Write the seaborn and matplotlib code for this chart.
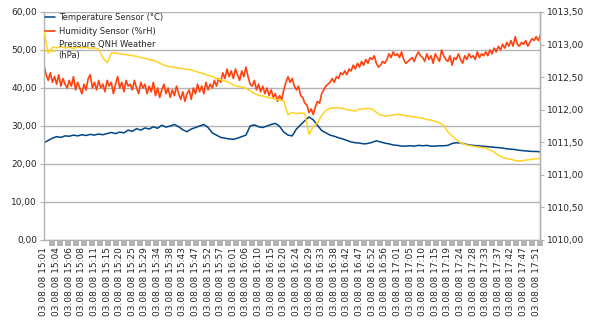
import numpy as np
import pandas as pd
import matplotlib
matplotlib.use("Agg")
import matplotlib.pyplot as plt
import seaborn as sns
from matplotlib.ticker import FuncFormatter, MultipleLocator

time_labels = [
    "03.08.08 15:01", "03.08.08 15:04", "03.08.08 15:06", "03.08.08 15:08",
    "03.08.08 15:11", "03.08.08 15:15", "03.08.08 15:20", "03.08.08 15:25",
    "03.08.08 15:29", "03.08.08 15:34", "03.08.08 15:38", "03.08.08 15:43",
    "03.08.08 15:47", "03.08.08 15:52", "03.08.08 15:57", "03.08.08 16:01",
    "03.08.08 16:06", "03.08.08 16:10", "03.08.08 16:15", "03.08.08 16:20",
    "03.08.08 16:24", "03.08.08 16:29", "03.08.08 16:33", "03.08.08 16:38",
    "03.08.08 16:42", "03.08.08 16:47", "03.08.08 16:52", "03.08.08 16:56",
    "03.08.08 17:01", "03.08.08 17:05", "03.08.08 17:10", "03.08.08 17:15",
    "03.08.08 17:19", "03.08.08 17:24", "03.08.08 17:28", "03.08.08 17:33",
    "03.08.08 17:37", "03.08.08 17:42", "03.08.08 17:47", "03.08.08 17:51",
]

series_names = ["Temperature Sensor (°C)", "Humidity Sensor (%rH)",
                "Pressure QNH Weather\n(hPa)"]

# samples between two consecutive time labels
temp_per_label = 3
hum_per_label = 6
pres_per_label = 3

temperature = [
    25.6, 26.2, 26.8, 27.2, 27.0, 27.4, 27.3, 27.6, 27.4, 27.7, 27.5, 27.8,
    27.6, 27.9, 27.7, 28.0, 28.3, 28.0, 28.4, 28.2, 28.9, 28.6, 29.3, 28.9,
    29.5, 29.2, 29.8, 29.4, 30.2, 29.7, 30.0, 30.4, 29.8, 29.0, 28.5, 29.2,
    29.6, 30.0, 30.4, 29.6, 28.2, 27.6, 27.0, 26.8, 26.6, 26.5, 26.8, 27.2,
    27.6, 30.0, 30.3, 29.8, 29.6, 30.0, 30.4, 30.7, 29.9, 28.4, 27.6, 27.4,
    29.2, 30.3, 31.4, 32.4, 31.6, 30.2, 28.8, 28.2, 27.6, 27.3, 26.9, 26.6,
    26.2, 25.8, 25.6, 25.5, 25.3, 25.4, 25.7, 26.1, 25.8, 25.5, 25.3, 25.0,
    24.9, 24.7, 24.7, 24.8, 24.7, 24.9, 24.8, 24.9, 24.7, 24.7, 24.8, 24.8,
    24.9, 25.4, 25.6, 25.5, 25.3, 25.0, 24.9, 24.8, 24.7, 24.6, 24.5, 24.4,
    24.3, 24.2, 24.0, 23.9, 23.8, 23.6, 23.5, 23.4, 23.3, 23.3, 23.2,
]

humidity = [
    46.0, 43.5, 42.0, 44.0, 41.5, 43.0,
    41.0, 43.5, 40.5, 42.5, 41.0, 40.0,
    42.0, 40.5, 43.0, 39.5, 41.5, 40.0,
    38.5, 41.0, 39.5, 42.5, 43.5, 40.0,
    41.5, 39.5, 42.0, 40.0, 41.0, 39.0,
    42.0, 40.5, 41.5, 38.5, 41.0, 43.0,
    40.0, 41.5, 39.0, 42.0, 40.5, 41.0,
    39.5, 42.0, 40.0, 38.5, 41.5, 40.0,
    41.0, 38.5, 40.5, 39.0, 41.5, 38.0,
    40.0, 37.5, 39.5, 41.0, 38.5, 40.0,
    37.5, 39.5, 38.0, 40.5, 38.5, 37.0,
    39.0, 36.5, 38.5, 39.5, 37.0, 40.0,
    38.5, 41.0, 39.0, 40.5, 38.5, 41.5,
    39.5, 41.0, 40.0, 42.0, 40.5, 42.5,
    41.5, 44.0, 42.5, 45.0, 43.0, 44.5,
    42.5, 45.0, 43.5, 42.0, 44.5, 43.0,
    45.5, 43.0, 41.0, 40.5, 42.0, 39.5,
    41.0, 39.0, 40.5, 38.5, 40.0, 38.0,
    39.5, 37.5, 38.5, 36.5, 38.0, 37.0,
    39.5, 41.5, 43.0, 41.5, 42.5, 40.5,
    39.5, 40.5, 38.0, 37.5, 36.0, 35.5,
    33.5, 34.5, 33.0, 35.0, 36.5, 36.0,
    38.5, 39.5, 40.5, 41.0, 41.5, 42.5,
    41.5, 43.0, 42.5, 44.0, 43.5, 44.5,
    43.5, 45.0, 44.5, 46.0, 45.0, 46.5,
    45.5, 47.0, 46.0, 47.5, 46.5, 48.0,
    47.5, 48.5, 46.5, 45.5, 46.0, 47.0,
    46.5, 47.5, 49.0, 48.0, 49.5, 48.5,
    49.0, 48.0, 49.5, 47.5, 46.5, 47.0,
    47.5, 48.0, 47.0, 48.5, 49.5, 48.5,
    48.0, 47.0, 49.0, 47.5, 48.5, 46.5,
    49.0, 48.0, 47.0, 50.0, 48.5, 47.5,
    47.0, 48.5, 46.0, 48.0, 47.5, 49.0,
    47.5, 46.5, 48.5, 47.5, 49.0, 48.0,
    48.5, 47.5, 49.5, 48.0, 49.0, 48.5,
    49.5, 48.5, 50.0, 49.0, 50.5, 49.5,
    51.0, 50.0, 51.5, 50.5, 52.0, 51.0,
    52.5, 51.0, 53.5, 51.5, 51.0, 52.0,
    51.5, 52.5, 51.0, 52.0, 53.0, 52.5,
    53.5, 52.5, 54.0,
]

pressure = [
    1013.20, 1012.87, 1012.96, 1012.95, 1012.97, 1012.95, 1012.96, 1012.94,
    1012.96, 1012.95, 1012.96, 1012.94, 1012.95, 1012.93, 1012.80, 1012.72,
    1012.87, 1012.87, 1012.86, 1012.85, 1012.84, 1012.83, 1012.82, 1012.80,
    1012.79, 1012.77, 1012.76, 1012.73, 1012.70, 1012.67, 1012.66, 1012.65,
    1012.64, 1012.63, 1012.62, 1012.61, 1012.59, 1012.57, 1012.55, 1012.53,
    1012.51, 1012.48, 1012.46, 1012.44, 1012.42, 1012.38, 1012.36, 1012.35,
    1012.33, 1012.29, 1012.25, 1012.22, 1012.21, 1012.19, 1012.18, 1012.16,
    1012.15, 1012.13, 1011.92, 1011.96, 1011.94, 1011.95, 1011.94, 1011.62,
    1011.74, 1011.80, 1011.91, 1011.99, 1012.02, 1012.03, 1012.03, 1012.02,
    1012.00, 1011.99, 1011.98, 1012.01, 1012.01, 1012.02, 1012.01, 1011.96,
    1011.92, 1011.90, 1011.91, 1011.92, 1011.93, 1011.92, 1011.91, 1011.90,
    1011.89, 1011.88, 1011.87, 1011.85, 1011.84, 1011.82, 1011.80, 1011.76,
    1011.66, 1011.60, 1011.54, 1011.49, 1011.47, 1011.45, 1011.44, 1011.43,
    1011.42, 1011.41, 1011.38, 1011.35, 1011.30, 1011.27, 1011.25, 1011.24,
    1011.22, 1011.21, 1011.22, 1011.23, 1011.24, 1011.25, 1011.25,
]

left_ticks = [0, 10, 20, 30, 40, 50, 60]
right_ticks = [1010.0, 1010.5, 1011.0, 1011.5, 1012.0, 1012.5, 1013.0, 1013.5]

colors = ["#004586", "#ff420e", "#ffd320"]
grid_gray = "#b3b3b3"

df_t = pd.DataFrame({"pos": np.arange(len(temperature)) / temp_per_label, "value": temperature})
df_h = pd.DataFrame({"pos": np.arange(len(humidity)) / hum_per_label, "value": humidity})
df_p = pd.DataFrame({"pos": np.arange(len(pressure)) / pres_per_label, "value": pressure})

sns.set_style("white")
plt.rcParams["font.family"] = ["DejaVu Sans"]

fig = plt.figure(figsize=(6.03, 3.27), dpi=100)
ax = fig.add_axes([44 / 603, 1 - 240 / 327, (540 - 44) / 603, (240 - 12) / 327])
ax2 = ax.twinx()

sns.lineplot(data=df_t, x="pos", y="value", ax=ax, color=colors[0], lw=1.1,
             label=series_names[0], legend=False)
sns.lineplot(data=df_h, x="pos", y="value", ax=ax, color=colors[1], lw=1.2,
             label=series_names[1], legend=False)
sns.lineplot(data=df_p, x="pos", y="value", ax=ax2, color=colors[2], lw=1.1,
             label=series_names[2], legend=False)

ax.set_xlim(0, 39.3)
ax.set_ylim(0, 60)
ax2.set_ylim(1010, 1013.5)
ax.set_yticks(left_ticks)
ax2.set_yticks(right_ticks)
fmt = FuncFormatter(lambda v, p: f"{v:.2f}".replace(".", ","))
ax.yaxis.set_major_formatter(fmt)
ax2.yaxis.set_major_formatter(fmt)

ax.set_xticks(range(len(time_labels)))
ax.set_xticklabels(time_labels, rotation=90, fontsize=6.5)
ax.xaxis.set_minor_locator(MultipleLocator(0.6333))
ax.tick_params(axis="x", which="major", length=0, pad=5)
ax.tick_params(axis="x", which="minor", length=4.0, width=4.2, color=grid_gray,
               direction="out", bottom=True)
ax.tick_params(axis="y", which="major", length=3, width=0.8, color=grid_gray,
               labelsize=6.5, pad=2, left=True)
ax2.tick_params(axis="y", which="major", length=3, width=0.8, color=grid_gray,
                labelsize=6.5, pad=2, right=True)

ax.set_xlabel("")
ax.set_ylabel("")
ax2.set_ylabel("")

ax.yaxis.grid(True, color=grid_gray, lw=1)
ax.xaxis.grid(False)
ax.set_axisbelow(True)

for a in (ax, ax2):
    for s in a.spines.values():
        s.set_color(grid_gray)
        s.set_linewidth(1)
    a.spines["top"].set_visible(False)
ax2.spines["left"].set_visible(False)
ax2.spines["bottom"].set_visible(False)

h1, l1 = ax.get_legend_handles_labels()
h2, l2 = ax2.get_legend_handles_labels()
ax2.legend(h1 + h2, l1 + l2, loc="upper left", bbox_to_anchor=(0.0, 1.0),
           frameon=False, fontsize=6, handlelength=1.2, handletextpad=0.4,
           labelspacing=0.55, borderaxespad=0, borderpad=0.15)

fig.savefig("out.png", dpi=100)
